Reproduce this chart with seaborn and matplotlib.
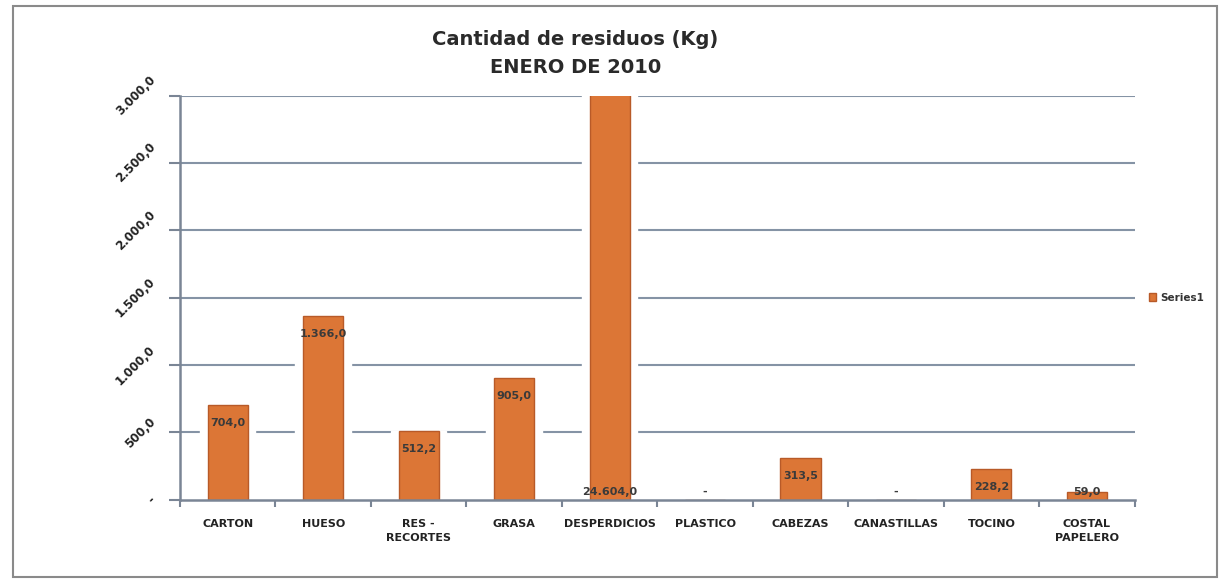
import matplotlib
matplotlib.use("Agg")
import matplotlib.pyplot as plt
import seaborn as sns
import pandas as pd
import numpy as np
from matplotlib.ticker import FuncFormatter, FixedLocator
from matplotlib.patches import Rectangle

categories = ["CARTON", "HUESO", "RES -\nRECORTES", "GRASA", "DESPERDICIOS",
              "PLASTICO", "CABEZAS", "CANASTILLAS", "TOCINO", "COSTAL\nPAPELERO"]
values = [704.0, 1366.0, 512.2, 905.0, 24604.0, 0.0, 313.5, 0.0, 228.2, 59.0]
yticks = [0, 500, 1000, 1500, 2000, 2500, 3000]
series_name = "Series1"
title = "Cantidad de residuos (Kg)\nENERO DE 2010"

def es_fmt(v):
    if v == 0:
        return "-"
    s = f"{v:,.1f}"
    return s.replace(",", "X").replace(".", ",").replace("X", ".")

sns.set_theme(style="white")
plt.rcParams['font.family'] = ['DejaVu Sans']

df = pd.DataFrame({"cat": categories, "val": values, "s": series_name})

fig = plt.figure(figsize=(12.24, 5.86), dpi=100)
ax = fig.add_axes([0.147, 0.147, 0.78, 0.69])

for y in yticks[1:]:
    ax.axhline(y, color="#8593a5", lw=1.5, zorder=0)

# white halo behind bars (gap in gridlines)
sns.barplot(data=df, x="cat", y="val", color="white", width=0.58,
            ax=ax, zorder=1, saturation=1, legend=False)
sns.barplot(data=df, x="cat", y="val", hue="s", palette=["#dc7636"], width=0.42,
            ax=ax, zorder=2, saturation=1, edgecolor="#b85a28", linewidth=1.0)

ax.set_ylim(0, 3000)
ax.set_xlim(-0.5, len(categories) - 0.5)
ax.set_xlabel("")
ax.set_ylabel("")

for i, v in enumerate(values):
    if v > 3000 or v == 0:
        ly = 60
    else:
        ly = max(v - 133, 60)
    ax.text(i, ly, es_fmt(v), ha="center", va="center", fontsize=8,
            fontweight="bold", color="#3a3a3a", zorder=3)

ax.yaxis.set_major_locator(FixedLocator(yticks))
ax.yaxis.set_major_formatter(FuncFormatter(lambda v, p: es_fmt(v)))
for lab in ax.get_yticklabels():
    lab.set_rotation(45)
    lab.set_fontsize(8.5)
    lab.set_fontweight("bold")
    lab.set_ha("right")
    lab.set_va("center")
    lab.set_color("#222222")

ax.set_xticks(range(len(categories)))
ax.set_xticklabels(categories, fontsize=8, fontweight="bold", color="#222222",
                   linespacing=1.5)
ax.set_xticks(np.arange(-0.5, len(categories), 1.0), minor=True)
ax.tick_params(axis="x", which="major", length=0, pad=14)
ax.tick_params(axis="x", which="minor", length=5, width=1.5, color="#7a8595", direction="out", bottom=True)
ax.tick_params(axis="y", which="major", length=8, width=1.5, color="#7a8595", direction="out", left=True, pad=8)

for side in ["top", "right"]:
    ax.spines[side].set_visible(False)
for side in ["left", "bottom"]:
    ax.spines[side].set_color("#7a8595")
    ax.spines[side].set_linewidth(1.8)

leg = ax.legend(loc="center left", bbox_to_anchor=(1.005, 0.5), frameon=False,
                fontsize=7.5, handlelength=0.7, handleheight=0.7, handletextpad=0.4)
for t in leg.get_texts():
    t.set_fontweight("bold")
    t.set_color("#333333")

fig.text(0.47, 0.908, title, ha="center", va="center", fontsize=14,
         fontweight="bold", color="#2a2a2a", linespacing=1.6)

fig.patches.append(Rectangle((0.011, 0.015), 0.983, 0.975, transform=fig.transFigure,
                             fill=False, edgecolor="#8a8a8a", lw=1.5))

fig.savefig("out.png", dpi=100, facecolor="white")
